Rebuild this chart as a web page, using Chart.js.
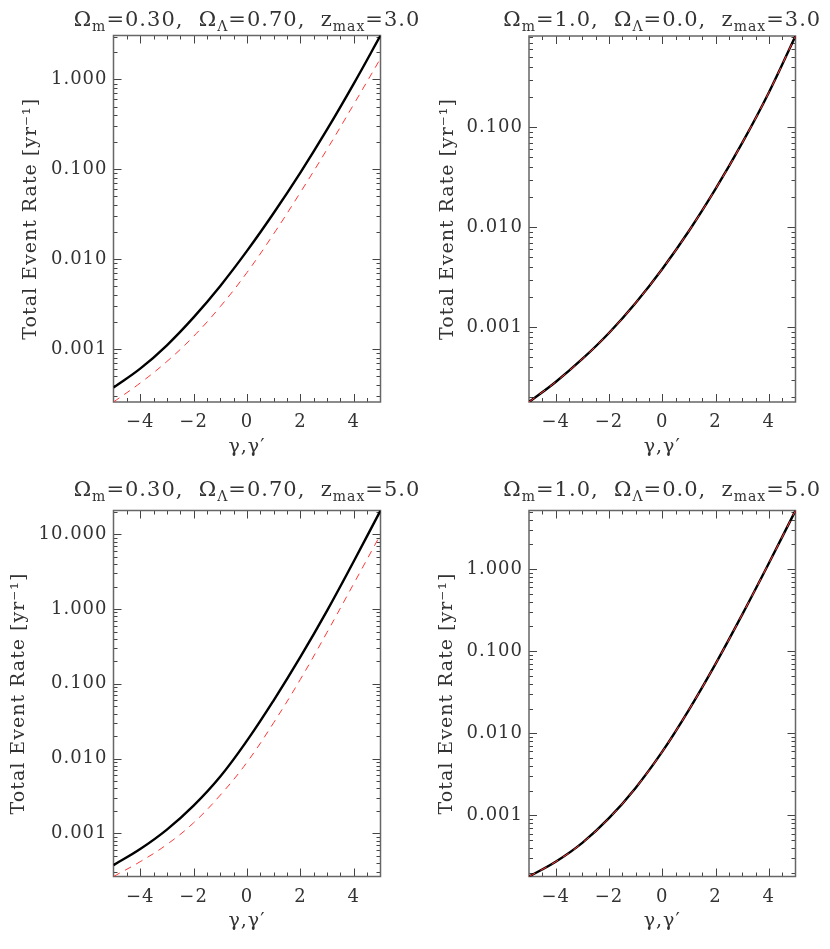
<!DOCTYPE html>
<html>
<head>
<meta charset="utf-8">
<script src="https://cdn.jsdelivr.net/npm/chart.js@4.4.0/dist/chart.umd.min.js"></script>
<style>
  body { margin: 0; background: #fff; }
  #wrap { position: relative; width: 830px; height: 949px; overflow: hidden; }
  canvas { position: absolute; }
  .title {
    position: absolute; font-family: 'DejaVu Serif'; font-size: 21px; line-height: 21px;
    letter-spacing: 1px; color: #333; text-align: center; white-space: nowrap;
  }
  .title .s { font-size: 14px; position: relative; top: 5px; }
</style>
</head>
<body>
<div id="wrap"></div>
<script>
const gamma = [-5, -4, -3, -2, -1, 0, 1, 2, 3, 4, 5];

// Omega_m=0.30, Omega_L=0.70, zmax=3.0
const lcdm3Solid = [3.75e-4, 6.08e-4, 1.107e-3, 2.26e-3, 5.06e-3, 0.0124, 0.0327, 0.0920, 0.278, 0.899, 3.08];
const lcdm3Dash  = [2.59e-4, 4.21e-4, 7.31e-4, 1.393e-3, 2.98e-3, 7.14e-3, 0.0192, 0.0555, 0.1675, 0.530, 1.71];
// Omega_m=1.0, Omega_L=0.0, zmax=3.0
const eds3Solid = [1.79e-4, 2.84e-4, 4.82e-4, 8.77e-4, 1.75e-3, 3.83e-3, 9.18e-3, 0.0242, 0.0697, 0.223, 0.818];
const eds3Dash  = [1.79e-4, 2.84e-4, 4.82e-4, 8.77e-4, 1.75e-3, 3.83e-3, 9.18e-3, 0.0242, 0.0697, 0.223, 0.818];
// Omega_m=0.30, Omega_L=0.70, zmax=5.0
const lcdm5Solid = [3.75e-4, 6.15e-4, 1.119e-3, 2.34e-3, 5.74e-3, 0.01734, 0.0601, 0.2286, 0.953, 4.36, 20.8];
const lcdm5Dash  = [2.64e-4, 4.17e-4, 7.08e-4, 1.380e-3, 3.24e-3, 8.91e-3, 0.0302, 0.1148, 0.490, 2.19, 9.89];
// Omega_m=1.0, Omega_L=0.0, zmax=5.0
const eds5Solid = [1.80e-4, 2.72e-4, 4.62e-4, 9.23e-4, 2.16e-3, 5.96e-3, 0.01928, 0.0700, 0.2786, 1.175, 5.16];
const eds5Dash  = [1.80e-4, 2.72e-4, 4.62e-4, 9.23e-4, 2.16e-3, 5.96e-3, 0.01928, 0.0700, 0.2786, 1.175, 5.16];

const xTicks = [-4, -2, 0, 2, 4];
const yTitle = 'Total Event Rate [yr\u207B\u00B9]';
const xTitle = '\u03B3,\u03B3\u2032';

const panels = [
  { left: 0,   top: 0,   w: 412, h: 470, plot: [113.5, 35.5, 380.5, 402],   ytx: 31.5,
    title: 'Ω<span class="s">m</span>=0.30,&nbsp; Ω<span class="s">Λ</span>=0.70,&nbsp; z<span class="s">max</span>=3.0',
    solid: lcdm3Solid, dash: lcdm3Dash, yTicks: [0.001, 0.01, 0.1, 1] },
  { left: 415, top: 0,   w: 415, h: 470, plot: [114, 36, 380.5, 402],       ytx: 33.3,
    title: 'Ω<span class="s">m</span>=1.0,&nbsp; Ω<span class="s">Λ</span>=0.0,&nbsp; z<span class="s">max</span>=3.0',
    solid: eds3Solid, dash: eds3Dash, yTicks: [0.001, 0.01, 0.1] },
  { left: 0,   top: 470, w: 412, h: 479, plot: [113.5, 40.5, 380.5, 406.5], ytx: 19.2,
    title: 'Ω<span class="s">m</span>=0.30,&nbsp; Ω<span class="s">Λ</span>=0.70,&nbsp; z<span class="s">max</span>=5.0',
    solid: lcdm5Solid, dash: lcdm5Dash, yTicks: [0.001, 0.01, 0.1, 1, 10] },
  { left: 415, top: 470, w: 415, h: 479, plot: [114, 40.5, 380.5, 406.5],   ytx: 32.5,
    title: 'Ω<span class="s">m</span>=1.0,&nbsp; Ω<span class="s">Λ</span>=0.0,&nbsp; z<span class="s">max</span>=5.0',
    solid: eds5Solid, dash: eds5Dash, yTicks: [0.001, 0.01, 0.1, 1] }
];

// inward ticks on all four sides plus the box, IDL style
const frameTicks = {
  id: 'frameTicks',
  beforeDraw(chart) { chart.ctx.letterSpacing = '1px'; },
  beforeDatasetsDraw(chart) {
    const { ctx, chartArea: a, scales: { x, y } } = chart;
    ctx.save();
    ctx.strokeStyle = '#444';
    ctx.lineWidth = 1;
    ctx.beginPath();
    for (let v = -4.5; v <= 4.5; v += 0.5) {
      const px = Math.round(x.getPixelForValue(v)) + 0.5;
      const len = (v % 2 === 0) ? 8 : 4;
      ctx.moveTo(px, a.bottom); ctx.lineTo(px, a.bottom - len);
      ctx.moveTo(px, a.top); ctx.lineTo(px, a.top + len);
    }
    const e0 = Math.floor(Math.log10(y.min)), e1 = Math.ceil(Math.log10(y.max));
    for (let e = e0; e <= e1; e++) {
      for (let m = 1; m <= 9; m++) {
        const v = m * Math.pow(10, e);
        if (v <= y.min || v >= y.max) continue;
        const py = Math.round(y.getPixelForValue(v)) + 0.5;
        const len = m === 1 ? 8 : 4;
        ctx.moveTo(a.left, py); ctx.lineTo(a.left + len, py);
        ctx.moveTo(a.right, py); ctx.lineTo(a.right - len, py);
      }
    }
    ctx.stroke();
    ctx.strokeStyle = '#666';
    ctx.lineWidth = 1.5;
    ctx.strokeRect(a.left, a.top, a.right - a.left, a.bottom - a.top);
    ctx.restore();
  }
};

const wrap = document.getElementById('wrap');
const font = { family: 'DejaVu Serif', size: 18 };

panels.forEach(p => {
  const [l, t, r, b] = p.plot;
  const cv = document.createElement('canvas');
  cv.width = p.w; cv.height = p.h;
  cv.style.left = p.left + 'px'; cv.style.top = p.top + 'px';
  wrap.appendChild(cv);

  // title centred over the plot box
  const ttl = document.createElement('div');
  ttl.className = 'title';
  const cx = p.left + (l + r) / 2;
  ttl.style.left = (cx - 250) + 'px';
  ttl.style.width = '500px';
  ttl.style.top = (p.top + 8.7) + 'px';
  ttl.innerHTML = p.title;
  wrap.appendChild(ttl);

  const all = p.solid.concat(p.dash);
  const yMin = Math.min(...all), yMax = Math.max(...all);

  new Chart(cv, {
    type: 'line',
    data: {
      datasets: [{
        data: gamma.map((g, i) => ({ x: g, y: p.dash[i] })),
        borderColor: '#ff3838',
        borderWidth: 1,
        borderDash: [7, 6],
        pointRadius: 0,
        tension: 0.4
      }, {
        data: gamma.map((g, i) => ({ x: g, y: p.solid[i] })),
        borderColor: '#000',
        borderWidth: 2.4,
        pointRadius: 0,
        tension: 0.4
      }]
    },
    options: {
      responsive: false,
      animation: false,
      layout: { padding: { left: 0, top: t, right: p.w - r, bottom: 0 } },
      plugins: { legend: { display: false }, tooltip: { enabled: false } },
      scales: {
        x: {
          type: 'linear', min: -5, max: 5,
          grid: { display: false, drawTicks: false },
          border: { display: false },
          afterBuildTicks: s => { s.ticks = xTicks.map(v => ({ value: v })); },
          afterFit: s => { s.height = p.h - b; },
          ticks: {
            color: '#333', font, padding: 10, autoSkip: false, maxRotation: 0,
            callback: v => (v < 0 ? '\u2212' + Math.abs(v) : String(v))
          },
          title: {
            display: true, text: xTitle, color: '#333', font: { family: 'DejaVu Serif', size: 19 },
            padding: { top: 0, bottom: p.h - b - 45 - 11.4 }
          }
        },
        y: {
          type: 'logarithmic', min: yMin, max: yMax,
          grid: { display: false, drawTicks: false },
          border: { display: false },
          afterBuildTicks: s => { s.ticks = p.yTicks.map(v => ({ value: v })); },
          afterFit: s => { s.width = l; },
          ticks: { color: '#333', font, padding: 6, autoSkip: false, callback: v => Number(v).toFixed(3) },
          title: {
            display: true, text: yTitle, color: '#333', font: { family: 'DejaVu Serif', size: 19 },
            padding: { top: p.ytx - 11.4, bottom: 0 }
          }
        }
      }
    },
    plugins: [frameTicks]
  });
});
</script>
</body>
</html>
